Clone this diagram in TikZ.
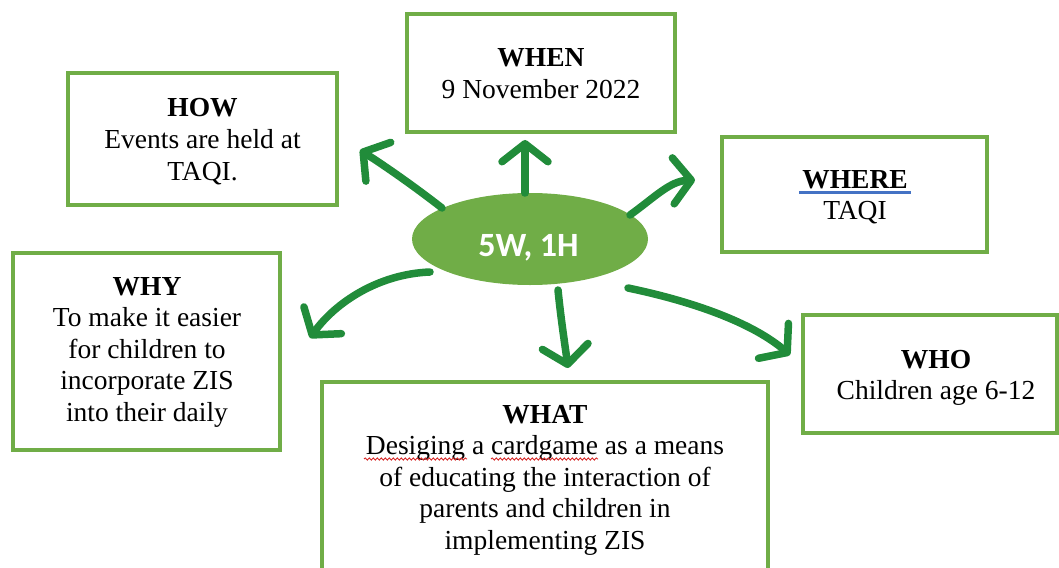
\documentclass[tikz,border=0pt]{standalone}
\usepackage{fontspec}
\setmainfont{Liberation Serif}
\newfontfamily\ovalfont{Carlito}
\usetikzlibrary{arrows.meta,shapes.geometric,calc,decorations.pathmorphing}

\definecolor{framegreen}{RGB}{112,173,71}
\definecolor{arrowgreen}{RGB}{33,140,58}
\definecolor{linkblue}{RGB}{68,114,196}
\definecolor{spellred}{RGB}{215,40,40}

% blue underline under a word
\newsavebox\ulinebox
\newcommand\blueline[1]{\sbox\ulinebox{#1}%
  \makebox[0pt][l]{\hspace*{-3pt}\color{linkblue}\rule[-5.5pt]{\dimexpr\wd\ulinebox+6pt\relax}{2.6pt}}%
  \usebox\ulinebox}

\tikzset{
  infobox/.style={draw=framegreen, line width=3.2pt, fill=white, inner sep=0pt},
  infotext/.style={anchor=base, text width=440pt, align=flush center, inner sep=0pt,
    font=\fontsize{27.5}{31.6}\selectfont},
  spoke/.style={draw=arrowgreen, line width=7.5pt, line cap=round,
    -{Straight Barb[length=18pt,width=46pt,round]}},
  squiggly/.style={draw=spellred, line width=0.9pt, decorate,
    decoration={snake, amplitude=1.1pt, segment length=4pt}}
}

\begin{document}
\begin{tikzpicture}[x=1pt,y=-1pt]
\useasboundingbox (0,0) rectangle (1059,567);
\clip (0,0) rectangle (1059,567);

% frames
\node[infobox, minimum width=268pt, minimum height=118pt] (when)  at (541,73) {};
\node[infobox, minimum width=269pt, minimum height=132pt] (how)   at (202.5,139) {};
\node[infobox, minimum width=265pt, minimum height=115pt] (where) at (854.5,194.5) {};
\node[infobox, minimum width=267pt, minimum height=197pt] (why)   at (146.5,351.5) {};
\node[infobox, minimum width=254pt, minimum height=118pt] (who)   at (930,374) {};
\node[infobox, minimum width=446pt, minimum height=240pt] (what)  at (545,502) {};

% frame texts (anchored on the first baseline)
\node[infotext] (whentext)  at (541,67)  {\textbf{WHEN}\\9 November 2022};
\node[infotext] (howtext)   at (202.5,117) {\textbf{HOW}\\Events are held at\\TAQI.};
\node[infotext] (wheretext) at (855,188) {\blueline{\textbf{WHERE}}\\TAQI};
\node[infotext] (whytext)   at (147,295) {\textbf{WHY}\\To make it easier\\for children to\\incorporate ZIS\\into their daily};
\node[infotext] (whattext)  at (545,423) {\textbf{WHAT}\\Desiging a cardgame as a means\\of educating the interaction of\\parents and children in\\implementing ZIS};
\node[infotext] (whotext)   at (936,368) {\textbf{WHO}\\Children age 6-12};

% spell-check marks
\draw[squiggly] (364,459) -- (467,459);
\draw[squiggly] (491,459) -- (598,459);

% hub
\node[ellipse, fill=framegreen, minimum width=236pt, minimum height=92pt, inner sep=0pt] (hub) at (530,239) {};
\node[anchor=base, text=white, inner sep=0pt,
      font=\ovalfont\bfseries\fontsize{34}{40}\selectfont] (hubtext) at (528.5,256) {5W, 1H};

% arrow tips
\coordinate (whentip)  at (525,140);
\coordinate (howtip)   at (360,150);
\coordinate (wheretip) at (695,180);
\coordinate (whytip)   at (310,338);
\coordinate (whattip)  at (568,368);
\coordinate (whotip)   at (790,355);

% spokes
\draw[spoke] ($(hub.center)+(-5,-46)$) -- (whentip);
\draw[spoke] ($(hub.center)+(-88,-31)$) .. controls (415,187) and (388,168) .. (howtip);
\draw[spoke] ($(hub.center)+(100,-24)$) .. controls (655,197) and (670,181) .. (wheretip);
\draw[spoke] ($(hub.center)+(-100,33)$) .. controls (378,274) and (335,303) .. (whytip);
\draw[spoke] ($(hub.center)+(28,51)$) .. controls (561,320) and (565,345) .. (whattip);
\draw[spoke] ($(hub.center)+(98,49)$) .. controls (700,303) and (755,325) .. (whotip);
\end{tikzpicture}
\end{document}
